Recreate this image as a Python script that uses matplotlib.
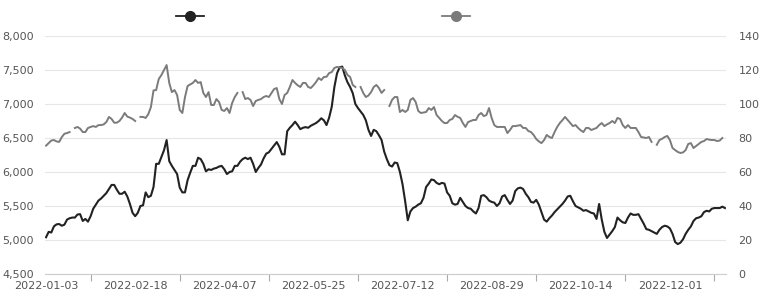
import numpy as np
import pandas as pd
import matplotlib
matplotlib.use("Agg")
import matplotlib.pyplot as plt
from matplotlib.lines import Line2D
from matplotlib.ticker import FuncFormatter

nan = np.nan

# trading days (weekdays) from 2022-01-03
dates = pd.bdate_range("2022-01-03", periods=260).strftime("%Y-%m-%d").tolist()
tick_labels = ["2022-01-03", "2022-02-18", "2022-04-07", "2022-05-25",
               "2022-07-12", "2022-08-29", "2022-10-14", "2022-12-01"]

# dark series, left axis
dark = [
    5040, 5120, 5110, 5200, 5230, 5235, 5210, 5225, 5300, 5320,
    5330, 5330, 5375, 5380, 5280, 5310, 5270, 5350, 5460, 5520,
    5580, 5610, 5650, 5690, 5750, 5810, 5810, 5740, 5680, 5680,
    5710, 5640, 5530, 5400, 5350, 5400, 5500, 5510, 5700, 5630,
    5650, 5780, 6120, 6120, 6220, 6320, 6470, 6160, 6090, 6030,
    5970, 5770, 5700, 5700, 5880, 5990, 6090, 6090, 6210, 6190,
    6120, 6010, 6040, 6030, 6050, 6060, 6080, 6090, 6040, 5970,
    6000, 6010, 6090, 6090, 6150, 6190, 6210, 6190, 6210, 6120,
    6000, 6060, 6110, 6200, 6270, 6290, 6340, 6390, 6440, 6370,
    6260, 6260, 6600, 6650, 6690, 6740, 6690, 6630, 6650, 6660,
    6650, 6680, 6700, 6720, 6750, 6790, 6760, 6690, 6800, 6960,
    7250, 7450, 7540, 7550, 7420, 7320, 7250, 7160, 7000, 6940,
    6890, 6840, 6760, 6620, 6530, 6620, 6600, 6540, 6470, 6300,
    6190, 6100, 6080, 6140, 6130, 6000, 5820, 5570, 5290, 5420,
    5470, 5490, 5520, 5540, 5620, 5780, 5830, 5890, 5880, 5840,
    5820, 5840, 5830, 5700, 5650, 5540, 5520, 5530, 5620, 5560,
    5500, 5470, 5460, 5420, 5390, 5470, 5650, 5660, 5630, 5580,
    5560, 5550, 5500, 5540, 5640, 5660, 5590, 5530, 5580, 5720,
    5760, 5770, 5750, 5680, 5630, 5560, 5550, 5590, 5520, 5410,
    5300, 5270, 5320, 5360, 5410, 5450, 5490, 5530, 5580, 5640,
    5650, 5570, 5500, 5480, 5460, 5430, 5440, 5420, 5400, 5390,
    5310, 5530, 5300, 5120, 5030, 5080, 5130, 5190, 5330, 5290,
    5260, 5250, 5330, 5390, 5370, 5370, 5380, 5310, 5240, 5160,
    5150, 5130, 5110, 5090, 5150, 5190, 5210, 5200, 5170, 5090,
    4970, 4940, 4960, 5010, 5090, 5150, 5200, 5280, 5320, 5330,
    5350, 5410, 5430, 5420, 5460, 5470, 5470, 5470, 5490, 5470,
]

# grey series, right axis (gaps are missing values)
grey = [
    75.5, 77, 78.5, 78.8, 78, 77.7, 80.5, 82.5, 82.9, 83.5,
    nan, 85.9, 86.5, 85.5, 83.5, 83.5, 85.9, 86.5, 87, 86.5,
    87.6, 87.6, 88, 89.4, 92.4, 91.2, 89, 89, 90, 92,
    94.7, 92.6, 92, 91.2, 90, nan, 92.4, 92.4, 91.8, 94,
    98.2, 108, 108.2, 114.7, 117, 120, 122.9, 112.4, 107, 108.2,
    105.3, 96.5, 94.7, 104, 110.6, 111.5, 112.4, 114.1, 112.4, 112.9,
    106.5, 104.1, 107, 99.4, 99.4, 102.9, 101.2, 96.5, 95.9, 97.6,
    94.7, 100.6, 104.1, 106.5, nan, 107, 102.9, 103.5, 102.4, 98.8,
    101.8, 102.4, 102.9, 104.1, 104.7, 104.1, 106.5, 108.8, 109.4, 102.9,
    100, 105.3, 106.5, 110, 114.1, 112.4, 111, 110, 112.4, 112.4,
    110, 109.4, 111, 112.9, 115.3, 114.1, 115.9, 116, 118.2, 118.8,
    121.2, 121.8, 121.5, 121.2, 120, 117.1, 115.9, 111.2, 110, nan,
    110, 106.5, 104.1, 105, 107, 110, 111.2, 109.4, 106.5, 108.2,
    nan, 98.8, 102.4, 104.1, 104.1, 95.3, 96.5, 95.3, 96.5, 102.4,
    103.5, 101.2, 95.9, 94.7, 95, 95.3, 97.6, 96.5, 98.2, 93.5,
    91.8, 90, 88.8, 88.8, 90.6, 91.2, 93.5, 92.5, 91.8, 88.8,
    86.5, 89.4, 90, 90.6, 90.6, 93.5, 94.7, 92.9, 93.5, 97.6,
    91.8, 87.6, 86.5, 86.5, 86.5, 86.5, 82.9, 84.7, 87, 87,
    87.3, 87.6, 85.9, 85.9, 84.1, 83.5, 81.8, 79.4, 78, 77,
    78.8, 81.8, 80.6, 80, 83.5, 86.5, 88.8, 90.5, 92.4, 90.6,
    88.8, 87, 87.6, 85.9, 84.5, 83.5, 85.9, 85.9, 84.7, 85.3,
    85.9, 87.6, 88.8, 87, 88, 88.8, 90, 88.8, 91.8, 91.2,
    87.6, 85.9, 87.6, 85.9, 85.9, 85.9, 83.5, 80.6, 80.3, 80,
    80.6, 77.7, nan, 76, 78.8, 79.5, 80.6, 81.2, 78.8, 74.1,
    72.9, 71.8, 71.2, 71.5, 72.9, 76.5, 77, 74.1, 75.3, 76.5,
    77.7, 78.2, 79.4, 79, 78.8, 78.8, 78.2, 78.5, 80, nan,
]

dark_color = "#222222"
grey_color = "#7b7b7b"
text_color = "#555555"

x = np.arange(len(dates))

fig = plt.figure(figsize=(7.66, 3.02), dpi=100)
ax = fig.add_axes([45 / 766, 28 / 302, 681 / 766, 238 / 302])
ax2 = ax.twinx()

ax.plot(x, dark, color=dark_color, lw=1.5, zorder=3)
ax2.plot(x, grey, color=grey_color, lw=1.4, zorder=2)

ax.set_xlim(-0.4, 259.4)
ax.set_ylim(4500, 8000)
ax.set_yticks(np.arange(4500, 8001, 500))
ax.yaxis.set_major_formatter(FuncFormatter(lambda v, p: f"{v:,.0f}"))
ax2.set_ylim(0, 140)
ax2.set_yticks(np.arange(0, 141, 20))

# labels every 34 days, tick marks between them
label_pos = [dates.index(d) for d in tick_labels]
ax.set_xticks(label_pos)
ax.set_xticklabels(tick_labels)
ax.set_xticks([p + 17 for p in label_pos], minor=True)
ax.tick_params(axis="x", which="major", length=0, pad=5, labelsize=8, labelcolor=text_color)
ax.tick_params(axis="x", which="minor", length=5, width=0.8, color="#aaaaaa")
ax.tick_params(axis="y", length=0, pad=8, labelsize=8, labelcolor=text_color)
ax2.tick_params(axis="y", length=0, pad=9, labelsize=8, labelcolor=text_color)

ax.grid(axis="y", color="#e6e6e6", lw=0.8)
ax.set_axisbelow(True)
for a in (ax, ax2):
    for s in a.spines.values():
        s.set_visible(False)
ax.spines["bottom"].set_visible(True)
ax.spines["bottom"].set_color("#cccccc")
ax.spines["bottom"].set_linewidth(0.8)

# legend markers without text
h1 = Line2D([], [], color=dark_color, lw=1.3, marker="o", ms=7)
h2 = Line2D([], [], color=grey_color, lw=1.3, marker="o", ms=7)
fig.legend([h1], [""], loc="center", bbox_to_anchor=(190 / 766, 1 - 17 / 302),
           frameon=False, handlelength=2.0, handletextpad=0, borderpad=0)
fig.legend([h2], [""], loc="center", bbox_to_anchor=(456 / 766, 1 - 17 / 302),
           frameon=False, handlelength=2.0, handletextpad=0, borderpad=0)

fig.savefig("out.png", dpi=100)
